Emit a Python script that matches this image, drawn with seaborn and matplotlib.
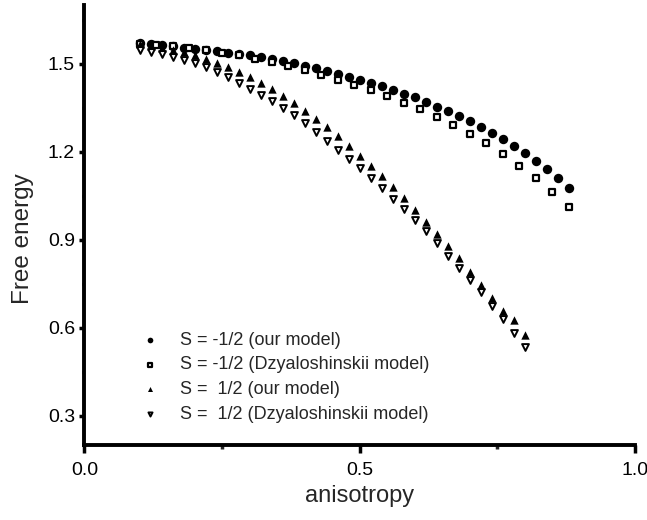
import numpy as np
import pandas as pd
import matplotlib
matplotlib.use("Agg")
import matplotlib.pyplot as plt
from matplotlib.ticker import MultipleLocator
import seaborn as sns

sns.set_style("ticks")
plt.rcParams["font.family"] = ["Liberation Sans", "DejaVu Sans"]

# -----------------------------------------------------------
# data
# -----------------------------------------------------------
x_circ = np.round(np.arange(0.10, 0.881, 0.02), 2)
y_circ = [1.569, 1.566, 1.563, 1.559, 1.555, 1.551, 1.547, 1.542, 1.538, 1.533,
          1.528, 1.523, 1.516, 1.509, 1.501, 1.493, 1.484, 1.474, 1.464, 1.454,
          1.444, 1.433, 1.423, 1.410, 1.397, 1.385, 1.369, 1.353, 1.337, 1.322,
          1.303, 1.283, 1.264, 1.242, 1.219, 1.196, 1.169, 1.140, 1.109, 1.077]

x_sq = np.round(np.arange(0.10, 0.881, 0.03), 2)
y_sq = [1.568, 1.564, 1.559, 1.553, 1.545, 1.537, 1.528, 1.517, 1.506, 1.493,
        1.478, 1.462, 1.444, 1.427, 1.410, 1.390, 1.367, 1.344, 1.319, 1.290,
        1.260, 1.228, 1.192, 1.152, 1.110, 1.064, 1.010]

x_tri = np.round(np.arange(0.10, 0.801, 0.02), 2)
y_up = [1.566, 1.561, 1.555, 1.548, 1.539, 1.528, 1.515, 1.502, 1.489, 1.472,
        1.454, 1.435, 1.413, 1.391, 1.367, 1.339, 1.311, 1.283, 1.252, 1.220,
        1.186, 1.152, 1.117, 1.080, 1.042, 1.002, 0.960, 0.920, 0.878, 0.836,
        0.791, 0.746, 0.701, 0.658, 0.627, 0.575]
y_down = [1.548, 1.540, 1.533, 1.523, 1.512, 1.501, 1.489, 1.472, 1.454, 1.435,
          1.414, 1.394, 1.372, 1.349, 1.326, 1.297, 1.267, 1.238, 1.207, 1.175,
          1.143, 1.109, 1.075, 1.040, 1.003, 0.966, 0.928, 0.888, 0.846, 0.805,
          0.763, 0.720, 0.675, 0.630, 0.582, 0.533]

labels = ["S = -1/2 (our model)",
          "S = -1/2 (Dzyaloshinskii model)",
          "S =  1/2 (our model)",
          "S =  1/2 (Dzyaloshinskii model)"]

df = pd.concat([
    pd.DataFrame({"anisotropy": x_circ, "F": y_circ, "series": labels[0]}),
    pd.DataFrame({"anisotropy": x_sq, "F": y_sq, "series": labels[1]}),
    pd.DataFrame({"anisotropy": x_tri, "F": y_up, "series": labels[2]}),
    pd.DataFrame({"anisotropy": x_tri, "F": y_down, "series": labels[3]}),
])

# marker, face, size, edge width
styles = {
    labels[0]: ("o", "black", 46, 0.0),
    labels[1]: ("s", "white", 18, 1.6),
    labels[2]: ("^", "black", 36, 0.0),
    labels[3]: ("v", "white", 24, 1.4),
}

# -----------------------------------------------------------
# plot
# -----------------------------------------------------------
fig = plt.figure(figsize=(6.47, 5.20), dpi=100)
ax = fig.add_axes([0.1306, 0.1442, 0.8509, 0.8462])

for name in labels:
    m, fc, s, lw = styles[name]
    sub = df[df["series"] == name]
    sns.scatterplot(data=sub, x="anisotropy", y="F", ax=ax, marker=m, s=s,
                    color=fc, edgecolor="black", linewidth=lw, label=name)

ax.set_xlim(0, 1.0)
ax.set_ylim(0.2, 1.7)
ax.xaxis.set_minor_locator(MultipleLocator(0.25))
ax.yaxis.set_minor_locator(MultipleLocator(0.15))
ax.set_yticks([0.3, 0.6, 0.9, 1.2, 1.5])
ax.set_xticks([0.0, 0.5, 1.0])
ax.set_xticklabels(["0.0", "0.5", "1.0"])

sns.despine(ax=ax)
for side in ["left", "bottom"]:
    ax.spines[side].set_linewidth(2.8)
    ax.spines[side].set_color("black")

ax.tick_params(axis="x", which="major", direction="out", length=6, width=2.5,
               pad=6, labelsize=14, colors="black")
ax.tick_params(axis="x", which="minor", direction="out", length=3, width=2.5)
ax.tick_params(axis="y", which="major", direction="out", length=3.8, width=2.5,
               pad=3, labelsize=14, colors="black")
ax.tick_params(axis="y", which="minor", direction="out", length=1.8, width=2.5)

ax.set_xlabel("anisotropy", fontsize=17)
ax.set_ylabel("Free energy", fontsize=17.5)
ax.xaxis.set_label_coords(0.5, -0.091)
ax.yaxis.set_label_coords(-0.092, 0.47)

ax.legend(loc="lower left", bbox_to_anchor=(0.1026, 0.051), frameon=False,
          fontsize=13, markerscale=0.6, handlelength=1.0, handletextpad=1.17,
          labelspacing=0.42, borderpad=0, borderaxespad=0)

fig.savefig("out.png", dpi=100, facecolor="white")
